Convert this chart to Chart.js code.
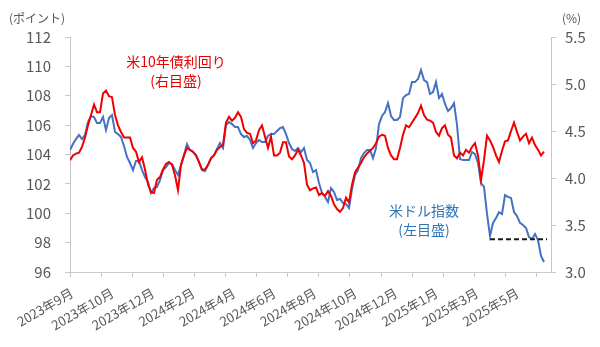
<!DOCTYPE html>
<html lang="ja">
<head>
<meta charset="utf-8">
<script src="https://cdn.jsdelivr.net/npm/chart.js@4.4.1/dist/chart.umd.min.js"></script>
<style>
  html, body { margin: 0; padding: 0; background: #fff; }
  #wrap { position: relative; width: 600px; height: 347px; font-family: "Noto Sans CJK JP", "Noto Sans", sans-serif; }
  .note { position: absolute; white-space: nowrap; text-align: center; line-height: 19px; }
  .unit { font-size: 12px; color: #595959; }
  .red { font-size: 14px; color: #e60000; width: 120px; }
  .blue { font-size: 14px; color: #2e75b6; width: 90px; }
</style>
</head>
<body>
<div id="wrap">
  <canvas id="c" width="600" height="347"></canvas>
  <div class="note unit" style="left:9px;top:8px">(ポイント)</div>
  <div class="note unit" style="left:562px;top:8px">(%)</div>
  <div class="note red" style="left:116px;top:52px">米10年債利回り<br>(右目盛)</div>
  <div class="note blue" style="left:379px;top:201px">米ドル指数<br>(左目盛)</div>
</div>
<script>
// x labels (every ~2 months)
const monthLabels = ['2023年9月', '2023年10月', '2023年12月', '2024年2月', '2024年4月', '2024年6月',
  '2024年8月', '2024年10月', '2024年12月', '2025年1月', '2025年3月', '2025年5月'];

// 米ドル指数 (left axis, points)
const dollarIndex = [
  104.30, 104.71, 105.05, 105.33, 105.05, 105.33, 106.21, 106.62, 106.55, 106.14,
  106.14, 106.55, 105.67, 106.48, 106.69, 105.53, 105.39, 105.19, 104.58, 103.83,
  103.42, 102.94, 103.56, 103.56, 102.94, 102.47, 102.13, 101.38, 101.72, 101.79,
  102.26, 102.94, 103.15, 103.42, 103.35, 102.94, 102.60, 103.28, 103.96, 104.71,
  104.30, 104.17, 103.96, 103.49, 102.94, 102.88, 103.28, 103.76, 103.96, 104.37,
  104.78, 104.44, 106.01, 106.21, 106.07, 105.87, 105.87, 105.39, 105.19, 105.26,
  104.99, 104.44, 104.78, 104.99, 104.85, 104.85, 105.26, 105.39, 105.39, 105.60,
  105.80, 105.87, 105.39, 104.78, 104.37, 104.24, 104.44, 104.17, 104.44, 103.62,
  103.42, 102.81, 102.94, 102.06, 101.38, 101.11, 100.76, 101.72, 101.45, 100.90,
  100.97, 100.70, 100.63, 100.36, 101.65, 102.60, 102.94, 103.76, 104.10, 104.30,
  104.30, 103.76, 104.44, 106.07, 106.62, 106.89, 107.50, 106.62, 106.35, 106.35,
  106.55, 107.84, 108.05, 108.12, 108.93, 108.93, 109.14, 109.75, 109.07, 108.93,
  108.12, 108.25, 108.93, 107.84, 108.12, 107.44, 106.96, 107.16, 107.50, 106.01,
  103.69, 103.62, 103.62, 103.62, 104.17, 104.03, 103.42, 102.06, 101.79, 99.95,
  98.45, 99.34, 99.68, 100.08, 99.95, 101.24, 101.11, 101.04, 100.08, 99.81,
  99.34, 99.20, 99.00, 98.38, 98.25, 98.59, 98.18, 97.09, 96.68
];

// 米10年債利回り (right axis, %)
const us10y = [
  4.19, 4.24, 4.26, 4.27, 4.33, 4.43, 4.56, 4.67, 4.78, 4.70,
  4.70, 4.90, 4.93, 4.87, 4.86, 4.67, 4.56, 4.49, 4.43, 4.43,
  4.43, 4.32, 4.28, 4.17, 4.22, 4.09, 3.93, 3.85, 3.84, 3.98,
  4.01, 4.09, 4.15, 4.17, 4.14, 4.03, 3.87, 4.14, 4.24, 4.32,
  4.30, 4.28, 4.24, 4.17, 4.09, 4.09, 4.14, 4.21, 4.24, 4.30,
  4.33, 4.35, 4.59, 4.65, 4.61, 4.64, 4.70, 4.65, 4.52, 4.48,
  4.47, 4.37, 4.40, 4.51, 4.56, 4.44, 4.32, 4.44, 4.24, 4.24,
  4.27, 4.38, 4.38, 4.23, 4.20, 4.24, 4.30, 4.24, 4.16, 3.93,
  3.87, 3.89, 3.90, 3.82, 3.84, 3.81, 3.86, 3.81, 3.72, 3.67,
  3.64, 3.68, 3.79, 3.74, 3.93, 4.06, 4.11, 4.16, 4.22, 4.26,
  4.29, 4.32, 4.37, 4.44, 4.46, 4.45, 4.32, 4.24, 4.20, 4.20,
  4.32, 4.46, 4.56, 4.54, 4.59, 4.64, 4.69, 4.77, 4.67, 4.62,
  4.61, 4.59, 4.49, 4.45, 4.53, 4.56, 4.46, 4.43, 4.24, 4.21,
  4.27, 4.24, 4.30, 4.27, 4.33, 4.37, 4.24, 3.98, 4.19, 4.45,
  4.40, 4.33, 4.24, 4.17, 4.29, 4.39, 4.40, 4.50, 4.59, 4.49,
  4.40, 4.44, 4.47, 4.37, 4.43, 4.35, 4.30, 4.24, 4.28
];

// dashed reference: April low of the dollar index
const dollarLow = 98.23;
const lowSpan = [140, 159];

const FONT = '"Noto Sans CJK JP", "Noto Sans", sans-serif';
const AXIS = '#c8c8c8';
const TEXT = '#595959';
const toXY = arr => arr.map((v, i) => ({ x: i, y: v }));

new Chart(document.getElementById('c'), {
  type: 'line',
  data: {
    datasets: [
      { label: '米ドル指数', data: toXY(dollarIndex), yAxisID: 'y', borderColor: '#4472c4',
        borderWidth: 2, pointRadius: 0, order: 2 },
      { label: '米10年債利回り', data: toXY(us10y), yAxisID: 'y1', borderColor: '#f00000',
        borderWidth: 2, pointRadius: 0, order: 1 },
      { label: 'low', data: lowSpan.map(x => ({ x, y: dollarLow })), yAxisID: 'y', borderColor: '#1a1a1a',
        borderWidth: 2, borderDash: [5, 3], pointRadius: 0, order: 0 }
    ]
  },
  options: {
    responsive: false,
    animation: false,
    devicePixelRatio: 1,
    layout: { padding: { top: 37, left: 0, right: 0, bottom: 0 } },
    plugins: { legend: { display: false }, tooltip: { enabled: false } },
    scales: {
      x: {
        type: 'linear', min: 0, max: 160.33,
        afterBuildTicks: axis => {
          const ticks = [];
          for (let j = 0; j <= 15; j++) ticks.push({ value: j * 10.367, mark: true });
          monthLabels.forEach((m, j) => ticks.push({ value: j * 13.5 + 0.7, name: m }));
          ticks.sort((a, b) => a.value - b.value);
          axis.ticks = ticks;
        },
        afterFit: axis => { axis.height = 75; },
        border: { color: AXIS },
        grid: {
          drawOnChartArea: false, tickLength: 5,
          color: c => (c.tick && c.tick.mark) ? AXIS : 'rgba(0,0,0,0)'
        },
        ticks: {
          autoSkip: false, minRotation: 30, maxRotation: 30, padding: 8,
          color: TEXT, font: { size: 13, family: FONT },
          callback: (v, i, ticks) => ticks[i].name || ''
        }
      },
      y: {
        position: 'left', min: 96, max: 112,
        afterFit: axis => { axis.width = 70; },
        border: { color: AXIS },
        grid: { drawOnChartArea: false, tickLength: 5, color: AXIS },
        ticks: { stepSize: 2, padding: 14, color: TEXT, font: { size: 15, family: FONT } }
      },
      y1: {
        position: 'right', min: 3, max: 5.5,
        afterFit: axis => { axis.width = 49; },
        border: { color: AXIS },
        grid: { drawOnChartArea: false, tickLength: 5, color: AXIS },
        ticks: { stepSize: 0.5, padding: 9, color: TEXT, font: { size: 15, family: FONT },
          callback: v => v.toFixed(1) }
      }
    }
  }
});
</script>
</body>
</html>
